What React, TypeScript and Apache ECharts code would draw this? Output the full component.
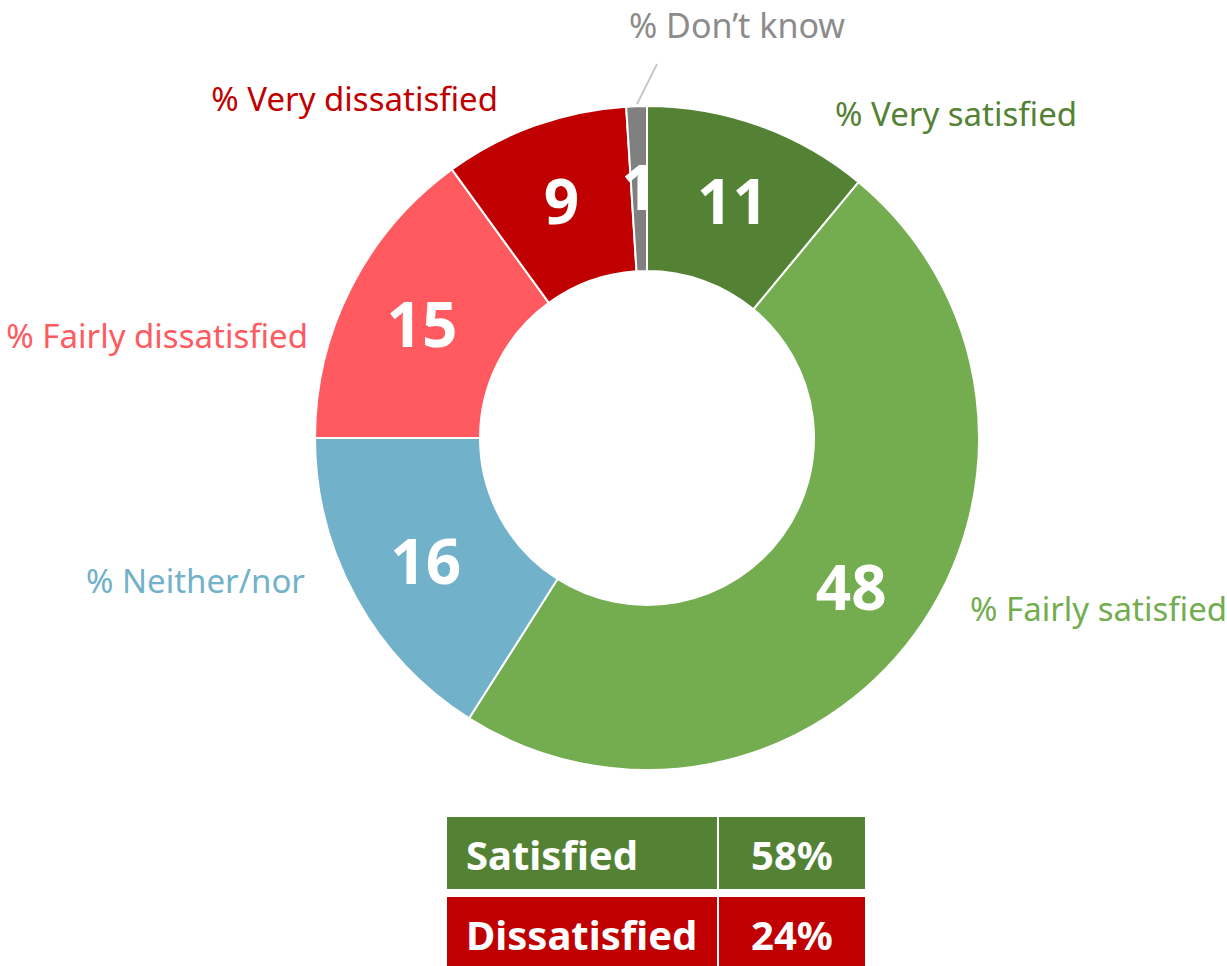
import React, { useEffect, useRef } from "react";
import * as echarts from "echarts";

const categories = [
  "% Very satisfied",
  "% Fairly satisfied",
  "% Neither/nor",
  "% Fairly dissatisfied",
  "% Very dissatisfied",
  "% Don\u2019t know",
];
const values = [11, 48, 16, 15, 9, 1];
const colors = ["#548235", "#74AC50", "#72B1CA", "#FF5A5F", "#C00000", "#808080"];
const labelColors = ["#548235", "#74AC50", "#72B1CA", "#FF5A5F", "#C00000", "#8C8C8C"];

const summaryLabels = ["Satisfied", "Dissatisfied"];
const summaryValues = ["58%", "24%"];
const summaryColors = ["#548235", "#C00000"];

// outer label anchors: [x, y, align, fontSize]
const labelPos: [number, number, string, number][] = [
  [835, 113, "left", 33],
  [970, 608, "left", 33],
  [305, 580, "right", 33],
  [308, 335, "right", 33],
  [498, 98, "right", 33],
  [629, 25, "left", 34],
];

const FONT = "'Noto Sans', 'Open Sans', sans-serif";

export default function App() {
  const ref = useRef<HTMLDivElement>(null);
  useEffect(() => {
    const chart = echarts.init(ref.current!, undefined, { renderer: "svg" });
    const data = categories.map((name, i) => ({
      name,
      value: values[i],
      itemStyle: { color: colors[i] },
    }));
    const graphic: any[] = [
      {
        type: "line",
        shape: { x1: 637, y1: 104, x2: 657, y2: 64 },
        style: { stroke: "#C8C8C8", lineWidth: 2 },
      },
    ];
    summaryLabels.forEach((lab, i) => {
      const y = 817 + i * 80;
      graphic.push({
        type: "rect",
        shape: { x: 447, y, width: 270, height: 72 },
        style: { fill: summaryColors[i] },
      });
      graphic.push({
        type: "rect",
        shape: { x: 719, y, width: 146, height: 72 },
        style: { fill: summaryColors[i] },
      });
      graphic.push({
        type: "text",
        x: 466,
        y: y + 37,
        style: {
          text: lab,
          fill: "#fff",
          font: `bold 40px ${FONT}`,
          textVerticalAlign: "middle",
          textAlign: "left",
        },
      });
      graphic.push({
        type: "text",
        x: 792,
        y: y + 37,
        style: {
          text: summaryValues[i],
          fill: "#fff",
          font: `bold 40px ${FONT}`,
          textVerticalAlign: "middle",
          textAlign: "center",
        },
      });
    });
    chart.setOption({
      animation: false,
      backgroundColor: "#fff",
      graphic,
      series: [
        {
          type: "pie",
          center: [647, 438],
          radius: [167, 332],
          startAngle: 90,
          clockwise: true,
          silent: true,
          itemStyle: { borderColor: "#fff", borderWidth: 2 },
          label: {
            show: true,
            position: "inside",
            formatter: "{c}",
            color: "#fff",
            fontFamily: FONT,
            fontWeight: "bold",
            fontSize: 62,
            overflow: "none",
          },
          labelLine: { show: false },
          data,
        },
        {
          type: "pie",
          center: [647, 438],
          radius: [167, 332],
          startAngle: 90,
          clockwise: true,
          silent: true,
          itemStyle: { color: "transparent", borderWidth: 0 },
          label: {
            show: true,
            position: "outside",
            formatter: "{b}",
            fontFamily: FONT,
            fontSize: 33,
            overflow: "none",
          },
          labelLine: { show: false },
          labelLayout: (p: any) => {
            const lp = labelPos[p.dataIndex];
            return { x: lp[0], y: lp[1], align: lp[2], verticalAlign: "middle" };
          },
          data: categories.map((name, i) => ({
            name,
            value: values[i],
            label: { color: labelColors[i], fontSize: labelPos[i][3] },
          })),
        },
      ],
    });
    return () => chart.dispose();
  }, []);
  return (
    <div
      ref={ref}
      style={{ position: "absolute", left: 0, top: 0, width: 1227, height: 966 }}
    />
  );
}
